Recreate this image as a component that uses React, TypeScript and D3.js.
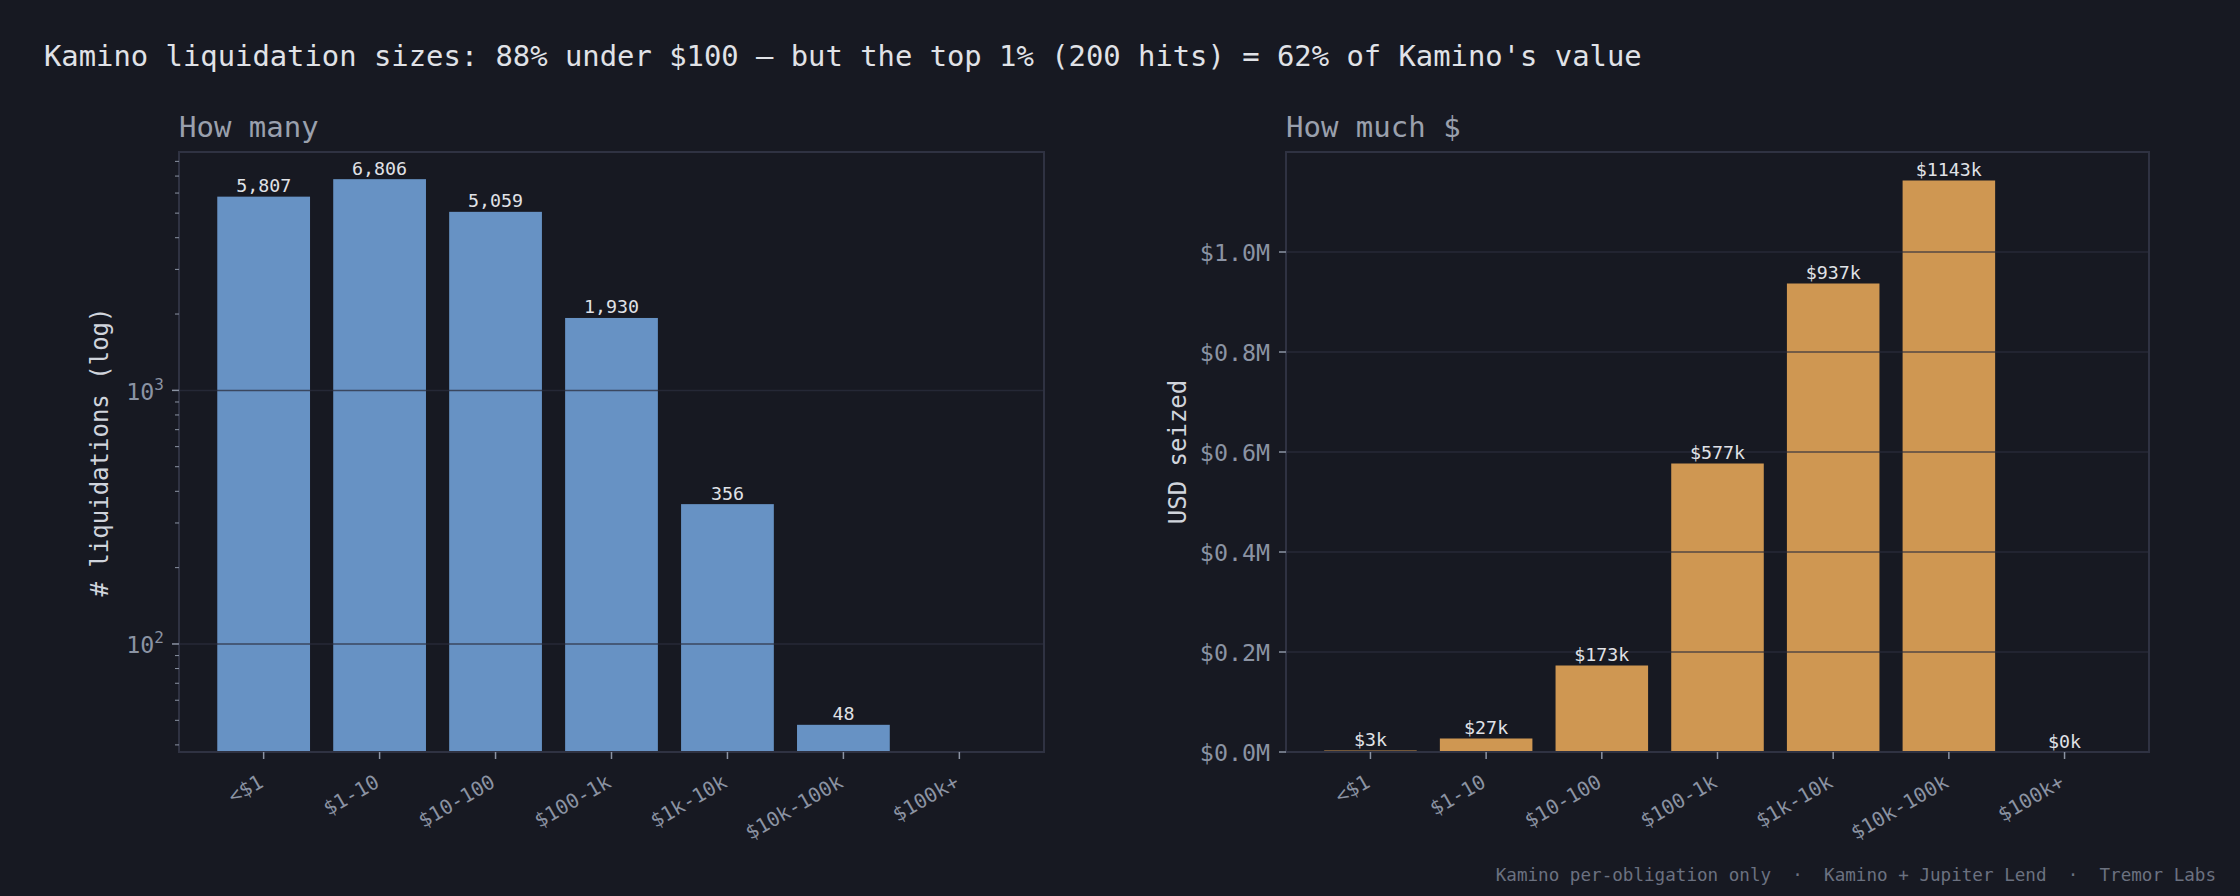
import React from 'react';
import { scaleBand, scaleLog, scaleLinear, range } from 'd3';

const categories = ['<$1', '$1-10', '$10-100', '$100-1k', '$1k-10k', '$10k-100k', '$100k+'];
const counts = [5807, 6806, 5059, 1930, 356, 48, 0];
const usdSeized = [3000, 27000, 173000, 577000, 937000, 1143000, 0];
const usdTicks = [0, 200000, 400000, 600000, 800000, 1000000];
const logMajor = [100, 1000];

const W = 2240;
const H = 896;
const FONT = '"DejaVu Sans Mono", monospace';
const BG = '#171922';
const SPINE = '#2f3242';
const GRID = '#2b2e3d';
const TICK = '#8b93a3';
const BLUE = '#6792c4';
const ORANGE = '#cf9752';

const top = 152;
const bottom = 752;

const XLabels = ({ x }: { x: any }) => (
  <g>
    {categories.map(c => {
      const cx = x(c) + x.bandwidth() / 2;
      return (
        <g key={c}>
          <line x1={cx} x2={cx} y1={bottom} y2={bottom + 7} stroke={TICK} strokeWidth={1.5} />
          <text
            transform={`translate(${cx + 1},${bottom + 34}) rotate(-30)`}
            textAnchor="end"
            fontSize={20}
            fill={TICK}
          >{c}</text>
        </g>
      );
    })}
  </g>
);

const LeftChart = () => {
  const left = 179, right = 1044;
  const x = scaleBand().domain(categories).range([left, right]).paddingInner(0.2).paddingOuter(0.33);
  const y = scaleLog().domain([37.5, 8710]).range([bottom, top]);
  const minor: number[] = [];
  [10, 100, 1000].forEach(d => range(2, 10).forEach(m => {
    const v = d * m;
    if (v >= 37.5 && v <= 8710) minor.push(v);
  }));

  return (
    <g>
      <text x={left} y={137} fontSize={29} fill="#9aa0ad">How many</text>
      {counts.map((v, i) => v > 0 && (
        <rect key={i} x={x(categories[i])} y={y(v)} width={x.bandwidth()} height={bottom - y(v)} fill={BLUE} />
      ))}
      {logMajor.map(v => (
        <line key={v} x1={left} x2={right} y1={y(v)} y2={y(v)} stroke={GRID} strokeOpacity={0.75} strokeWidth={1.5} />
      ))}
      <rect x={left} y={top} width={right - left} height={bottom - top} fill="none" stroke={SPINE} strokeWidth={2} />
      {minor.map(v => (
        <line key={v} x1={left - 4} x2={left} y1={y(v)} y2={y(v)} stroke={TICK} strokeWidth={1} />
      ))}
      {logMajor.map(v => (
        <g key={v}>
          <line x1={left - 7} x2={left} y1={y(v)} y2={y(v)} stroke={TICK} strokeWidth={1.5} />
          <text x={164} y={y(v) + 9.5} textAnchor="end" fontSize={23.3} fill={TICK}>
            10<tspan fontSize={16} dy={-10}>{Math.log10(v)}</tspan>
          </text>
        </g>
      ))}
      {counts.map((v, i) => v > 0 && (
        <text key={i} x={x(categories[i])! + x.bandwidth() / 2} y={y(v) - 4.5} textAnchor="middle" fontSize={18.3} fill="#e0e2e7">
          {v.toLocaleString('en-US')}
        </text>
      ))}
      <XLabels x={x} />
      <text transform={`translate(108,${(top + bottom) / 2}) rotate(-90)`} textAnchor="middle" fontSize={24} fill="#d0d4dc">
        # liquidations (log)
      </text>
    </g>
  );
};

const RightChart = () => {
  const left = 1286, right = 2149;
  const x = scaleBand().domain(categories).range([left, right]).paddingInner(0.2).paddingOuter(0.33);
  const y = scaleLinear().domain([0, 1200000]).range([bottom, top]);

  return (
    <g>
      <text x={left} y={137} fontSize={29} fill="#9aa0ad">How much $</text>
      {usdSeized.map((v, i) => (
        <rect key={i} x={x(categories[i])} y={y(v)} width={x.bandwidth()} height={bottom - y(v)} fill={ORANGE} />
      ))}
      {usdTicks.map(v => (
        <line key={v} x1={left} x2={right} y1={y(v)} y2={y(v)} stroke={GRID} strokeOpacity={0.75} strokeWidth={1.5} />
      ))}
      <rect x={left} y={top} width={right - left} height={bottom - top} fill="none" stroke={SPINE} strokeWidth={2} />
      {usdTicks.map(v => (
        <g key={v}>
          <line x1={left - 7} x2={left} y1={y(v)} y2={y(v)} stroke={TICK} strokeWidth={1.5} />
          <text x={1270} y={y(v) + 9} textAnchor="end" fontSize={23.3} fill={TICK}>
            {`$${(v / 1e6).toFixed(1)}M`}
          </text>
        </g>
      ))}
      {usdSeized.map((v, i) => (
        <text key={i} x={x(categories[i])! + x.bandwidth() / 2} y={y(v) - 4.5} textAnchor="middle" fontSize={18.3} fill="#e0e2e7">
          {`$${Math.round(v / 1000)}k`}
        </text>
      ))}
      <XLabels x={x} />
      <text transform={`translate(1186,${(top + bottom) / 2}) rotate(-90)`} textAnchor="middle" fontSize={24} fill="#d0d4dc">
        USD seized
      </text>
    </g>
  );
};

export default function App() {
  return (
    <svg width={W} height={H} style={{ position: 'absolute', left: 0, top: 0, display: 'block' }} fontFamily={FONT}>
      <rect width={W} height={H} fill={BG} />
      <text x={44} y={66} fontSize={28.85} fill="#e0e2e7">
        Kamino liquidation sizes: 88% under $100 — but the top 1% (200 hits) = 62% of Kamino's value
      </text>
      <LeftChart />
      <RightChart />
      <text x={2216} y={881} textAnchor="end" fontSize={17.6} fill="#6b7180" style={{ whiteSpace: 'pre' }}>
        {'Kamino per-obligation only  ·  Kamino + Jupiter Lend  ·  Tremor Labs'}
      </text>
    </svg>
  );
}
